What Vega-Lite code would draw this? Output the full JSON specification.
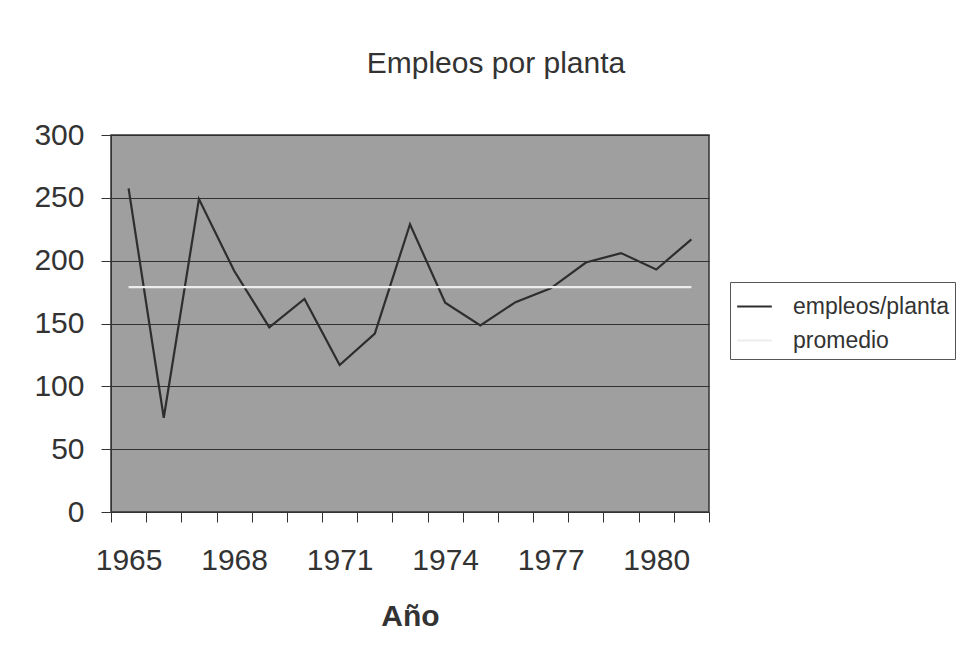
{
  "$schema": "https://vega.github.io/schema/vega-lite/v6.json",
  "autosize": "none",
  "width": 598,
  "height": 377,
  "padding": {"left": 111, "top": 135, "right": 262, "bottom": 148},
  "background": "white",
  "title": {
    "text": "Empleos por planta",
    "anchor": "middle",
    "dx": 86,
    "fontSize": 30,
    "font": "Liberation Sans",
    "fontWeight": "normal",
    "color": "#333333",
    "baseline": "alphabetic",
    "offset": 17
  },
  "data": {
    "values": [
      {"year": 1965, "serie": "empleos/planta", "valor": 257.5},
      {"year": 1966, "serie": "empleos/planta", "valor": 75},
      {"year": 1967, "serie": "empleos/planta", "valor": 249},
      {"year": 1968, "serie": "empleos/planta", "valor": 192},
      {"year": 1969, "serie": "empleos/planta", "valor": 147},
      {"year": 1970, "serie": "empleos/planta", "valor": 169.5},
      {"year": 1971, "serie": "empleos/planta", "valor": 117},
      {"year": 1972, "serie": "empleos/planta", "valor": 142},
      {"year": 1973, "serie": "empleos/planta", "valor": 229},
      {"year": 1974, "serie": "empleos/planta", "valor": 166.5},
      {"year": 1975, "serie": "empleos/planta", "valor": 148.5},
      {"year": 1976, "serie": "empleos/planta", "valor": 167},
      {"year": 1977, "serie": "empleos/planta", "valor": 178},
      {"year": 1978, "serie": "empleos/planta", "valor": 198.5},
      {"year": 1979, "serie": "empleos/planta", "valor": 206},
      {"year": 1980, "serie": "empleos/planta", "valor": 193},
      {"year": 1981, "serie": "empleos/planta", "valor": 217},
      {"year": 1965, "serie": "promedio", "valor": 179},
      {"year": 1966, "serie": "promedio", "valor": 179},
      {"year": 1967, "serie": "promedio", "valor": 179},
      {"year": 1968, "serie": "promedio", "valor": 179},
      {"year": 1969, "serie": "promedio", "valor": 179},
      {"year": 1970, "serie": "promedio", "valor": 179},
      {"year": 1971, "serie": "promedio", "valor": 179},
      {"year": 1972, "serie": "promedio", "valor": 179},
      {"year": 1973, "serie": "promedio", "valor": 179},
      {"year": 1974, "serie": "promedio", "valor": 179},
      {"year": 1975, "serie": "promedio", "valor": 179},
      {"year": 1976, "serie": "promedio", "valor": 179},
      {"year": 1977, "serie": "promedio", "valor": 179},
      {"year": 1978, "serie": "promedio", "valor": 179},
      {"year": 1979, "serie": "promedio", "valor": 179},
      {"year": 1980, "serie": "promedio", "valor": 179},
      {"year": 1981, "serie": "promedio", "valor": 179}
    ]
  },
  "mark": {"type": "line", "strokeWidth": 2.2},
  "encoding": {
    "x": {
      "field": "year",
      "type": "ordinal",
      "scale": {"paddingInner": 0, "paddingOuter": 0},
      "axis": {
        "title": "Año",
        "titleFont": "Liberation Sans",
        "titleFontSize": 30,
        "titleFontWeight": "bold",
        "titleColor": "#333333",
        "titlePadding": 26,
        "labelAngle": 0,
        "labelFont": "Liberation Sans",
        "labelFontSize": 30,
        "labelColor": "#333333",
        "labelPadding": 23,
        "labelExpr": "(datum.value - 1965) % 3 == 0 ? datum.value : ''",
        "labelOverlap": false,
        "tickBand": "extent",
        "tickSize": 10,
        "tickColor": "#333333",
        "domainColor": "#333333",
        "grid": false
      }
    },
    "y": {
      "field": "valor",
      "type": "quantitative",
      "scale": {"domain": [0, 300], "nice": false},
      "axis": {
        "title": null,
        "values": [0, 50, 100, 150, 200, 250, 300],
        "labelFont": "Liberation Sans",
        "labelFontSize": 30,
        "labelColor": "#333333",
        "labelPadding": 17,
        "tickSize": 10,
        "tickColor": "#333333",
        "domainColor": "#333333",
        "grid": true,
        "gridColor": "#303030",
        "gridWidth": 1.2,
        "gridOpacity": 1
      }
    },
    "color": {
      "field": "serie",
      "type": "nominal",
      "scale": {"domain": ["empleos/planta", "promedio"], "range": ["#2e2e2e", "#ededed"]},
      "legend": {
        "title": null,
        "orient": "none",
        "legendX": 619,
        "legendY": 147,
        "symbolType": "stroke",
        "symbolSize": 1200,
        "symbolStrokeWidth": 2,
        "labelFont": "Liberation Sans",
        "labelFontSize": 23,
        "labelColor": "#333333",
        "labelOffset": 20,
        "rowPadding": 3,
        "padding": 6,
        "strokeColor": "#555555",
        "fillColor": "white"
      }
    }
  },
  "config": {
    "view": {"fill": "#9f9f9f", "stroke": "#333333", "strokeWidth": 1.5}
  }
}
